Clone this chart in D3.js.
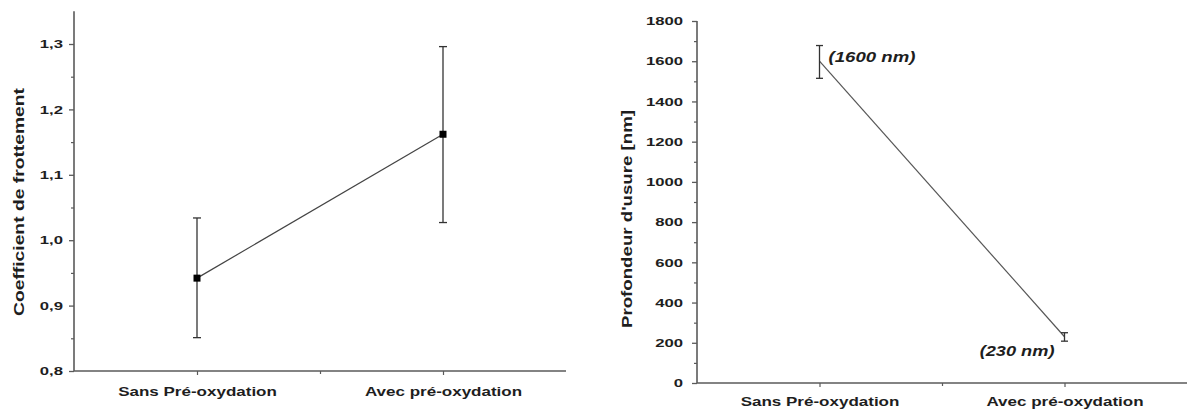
<!DOCTYPE html>
<html>
<head>
<meta charset="utf-8">
<script src="https://cdn.jsdelivr.net/npm/d3@7"></script>
<style>
  html, body { margin: 0; padding: 0; background: #fff; }
  svg { display: block; }
  text { font-family: "Liberation Sans", Arial, sans-serif; fill: #1e1e1e; }
</style>
</head>
<body>
<svg id="chart" width="1188" height="414"></svg>
<script>
// ---- data ----
const categories = ["Sans Pré-oxydation", "Avec pré-oxydation"];
const frictionMean = [0.942, 1.162];
const frictionLow  = [0.851, 1.027];
const frictionHigh = [1.034, 1.296];
const frictionTicks = [0.8, 0.9, 1.0, 1.1, 1.2, 1.3];
const frictionMinorTicks = [0.85, 0.95, 1.05, 1.15, 1.25];
const depthMean = [1600, 230];
const depthLow  = [1515, 208];
const depthHigh = [1678, 250];
const depthLabels = ["(1600 nm)", "(230 nm)"];
const depthTicks = [0, 200, 400, 600, 800, 1000, 1200, 1400, 1600, 1800];
const depthMinorTicks = [100, 300, 500, 700, 900, 1100, 1300, 1500, 1700];

const svg = d3.select("#chart");
const AXIS = "#5a5a5a";
const SX = 1.45; // horizontal text stretch of the original image

function stretch(sel, factor) {
  sel.each(function () {
    const w = this.getComputedTextLength();
    this.setAttribute("textLength", w * factor);
    this.setAttribute("lengthAdjust", "spacingAndGlyphs");
  });
}

function drawPanel(opts) {
  const g = svg.append("g");
  const x = d3.scaleLinear().domain([0.5, 2.5]).range(opts.xr);
  const y = d3.scaleLinear().domain(opts.yd).range(opts.yr);
  const idx = categories.map((c, i) => i + 1);

  // y axis major
  const ya = g.append("g").attr("transform", `translate(${opts.xr[0]},0)`)
    .call(d3.axisLeft(y).tickValues(opts.ticks).tickSize(5).tickPadding(opts.pad).tickFormat(opts.fmt));
  ya.select(".domain").attr("stroke", AXIS).attr("stroke-width", 1.6).attr("d", `M-0,${opts.yr[0]}V${opts.yr[1]}`);
  ya.selectAll(".tick line").attr("stroke", AXIS).attr("stroke-width", 1.3);
  ya.selectAll(".tick text").attr("font-size", 11.5).attr("font-weight", "bold").attr("fill", "#222")
    .call(stretch, SX);
  // y axis minor
  const ym = g.append("g").attr("transform", `translate(${opts.xr[0]},0)`)
    .call(d3.axisLeft(y).tickValues(opts.minor).tickSize(3).tickFormat(""));
  ym.select(".domain").remove();
  ym.selectAll(".tick line").attr("stroke", AXIS).attr("stroke-width", 1.2);

  // x axis
  const xa = g.append("g").attr("transform", `translate(0,${opts.yr[0]})`)
    .call(d3.axisBottom(x).tickValues(idx).tickSize(4).tickPadding(opts.xpad).tickFormat((d) => categories[d - 1]));
  xa.select(".domain").attr("stroke", AXIS).attr("stroke-width", 1.6)
    .attr("d", `M${opts.xr[0]},0H${opts.xr[1]}`);
  xa.selectAll(".tick line").attr("stroke", AXIS).attr("stroke-width", 1.2);
  xa.selectAll(".tick text").attr("font-size", 12.5).attr("font-weight", "bold").attr("fill", "#222")
    .attr("dy", "0.71em").call(stretch, 1.36);
  const xm = g.append("g").attr("transform", `translate(0,${opts.yr[0]})`)
    .call(d3.axisBottom(x).tickValues([1.5]).tickSize(3).tickFormat(""));
  xm.select(".domain").remove();
  xm.selectAll(".tick line").attr("stroke", AXIS).attr("stroke-width", 1.2);

  // y label
  g.append("text")
    .attr("transform", `translate(${opts.labelX},${opts.labelY}) rotate(-90)`)
    .attr("text-anchor", "middle")
    .attr("font-size", opts.labelSize).attr("font-weight", "bold").attr("fill", "#222")
    .attr("textLength", opts.labelLen).attr("lengthAdjust", "spacingAndGlyphs")
    .text(opts.label);

  // connecting line
  const pts = idx.map((d, i) => [x(d), y(opts.mean[i])]);
  g.append("path").attr("d", d3.line()(pts)).attr("fill", "none")
    .attr("stroke", opts.lineColor).attr("stroke-width", 1.2);

  // error bars
  const eb = g.append("g").attr("stroke", "#333").attr("stroke-width", 1.3);
  idx.forEach((d, i) => {
    const cx = x(d);
    eb.append("line").attr("x1", cx).attr("x2", cx).attr("y1", y(opts.low[i])).attr("y2", y(opts.high[i]));
    eb.append("line").attr("x1", cx - opts.cap).attr("x2", cx + opts.cap).attr("y1", y(opts.low[i])).attr("y2", y(opts.low[i]));
    eb.append("line").attr("x1", cx - opts.cap).attr("x2", cx + opts.cap).attr("y1", y(opts.high[i])).attr("y2", y(opts.high[i]));
  });

  // markers
  if (opts.marker) {
    g.selectAll("rect.m").data(idx).join("rect").attr("class", "m")
      .attr("x", (d) => x(d) - 3.5).attr("y", (d, i) => y(opts.mean[i]) - 3.5)
      .attr("width", 7).attr("height", 7).attr("fill", "#000");
  }
  return { g, x, y, idx };
}

// left panel
drawPanel({
  xr: [74, 566], yd: [0.8, 1.35], yr: [371, 11.3],
  ticks: frictionTicks, minor: frictionMinorTicks, pad: 6, xpad: 12,
  fmt: (d) => d3.format(".1f")(d).replace(".", ","),
  label: "Coefficient de frottement", labelX: 24, labelY: 202, labelSize: 15.5, labelLen: 228,
  mean: frictionMean, low: frictionLow, high: frictionHigh,
  cap: 4, marker: true, lineColor: "#444"
});

// right panel
const right = drawPanel({
  xr: [697, 1187], yd: [0, 1800], yr: [383, 21],
  ticks: depthTicks, minor: depthMinorTicks, pad: 9, xpad: 10,
  fmt: (d) => String(d),
  label: "Profondeur d'usure [nm]", labelX: 632, labelY: 219, labelSize: 15.5, labelLen: 218,
  mean: depthMean, low: depthLow, high: depthHigh,
  cap: 3.5, marker: false, lineColor: "#555"
});

// annotations
const ann = right.g.append("g");
ann.append("text").attr("x", right.x(1) + 9).attr("y", right.y(depthMean[0]) + 1)
  .attr("font-size", 14).attr("font-weight", "bold").attr("font-style", "italic").attr("fill", "#222")
  .text(depthLabels[0]).call(stretch, 1.33);
ann.append("text").attr("x", right.x(2) - 10).attr("y", right.y(depthMean[1]) + 19)
  .attr("text-anchor", "end")
  .attr("font-size", 14).attr("font-weight", "bold").attr("font-style", "italic").attr("fill", "#222")
  .text(depthLabels[1]).call(stretch, 1.3);
</script>
</body>
</html>
